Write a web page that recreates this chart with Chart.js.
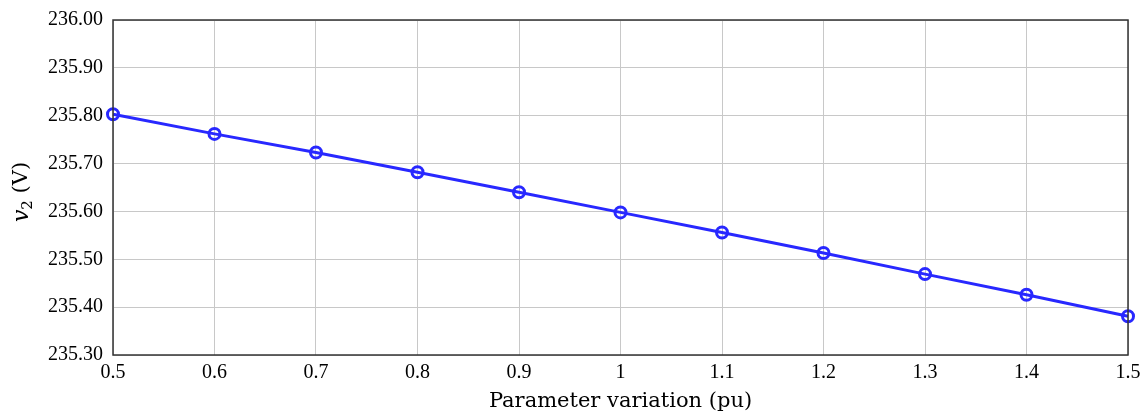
<!DOCTYPE html>
<html>
<head>
<meta charset="utf-8">
<script src="https://cdn.jsdelivr.net/npm/chart.js@4/dist/chart.umd.min.js"></script>
<style>
  html, body { margin: 0; padding: 0; background: #fff; }
  #wrap { width: 1144px; height: 414px; }
</style>
</head>
<body>
<div id="wrap"><canvas id="v2Chart"></canvas></div>
<script>
// Data
const paramVariation = [0.5, 0.6, 0.7, 0.8, 0.9, 1.0, 1.1, 1.2, 1.3, 1.4, 1.5];
const v2Values = [235.803, 235.762, 235.723, 235.682, 235.640, 235.598, 235.556, 235.513, 235.469, 235.426, 235.381];
const yTickMin = 235.30;
const yTickMax = 236.00;
const xTickMin = 0.5;
const xTickMax = 1.5;

const FONT = '"Liberation Serif", "DejaVu Serif", serif';
const TITLE_FONT = '"DejaVu Serif", "Liberation Serif", serif';

// box round the plot area + rotated y title with subscript
const frameAndTitle = {
    id: 'frameAndTitle',
    afterDraw(chart) {
        const { ctx, chartArea: a } = chart;
        ctx.save();
        ctx.strokeStyle = '#333';
        ctx.lineWidth = 1.5;
        ctx.strokeRect(a.left, a.top, a.right - a.left, a.bottom - a.top);

        // y title: v_2 (V)
        ctx.translate(22, 192);
        ctx.rotate(-Math.PI / 2);
        ctx.fillStyle = '#000';
        ctx.textBaseline = 'middle';
        ctx.font = 'italic 22px ' + TITLE_FONT;
        const wV = ctx.measureText('v').width;
        ctx.font = '15px ' + TITLE_FONT;
        const w2 = ctx.measureText('2').width;
        ctx.font = '21px ' + TITLE_FONT;
        const wRest = ctx.measureText(' (V)').width;
        let x = -(wV + w2 + wRest) / 2;
        ctx.font = 'italic 22px ' + TITLE_FONT;
        ctx.fillText('v', x, 0);
        x += wV;
        ctx.font = '15px ' + TITLE_FONT;
        ctx.fillText('2', x, 6);
        x += w2;
        ctx.font = '21px ' + TITLE_FONT;
        ctx.fillText(' (V)', x, 0);
        ctx.restore();
    }
};

new Chart(document.getElementById('v2Chart'), {
    type: 'line',
    data: {
        datasets: [{
            data: paramVariation.map((p, i) => ({ x: p, y: v2Values[i] })),
            borderColor: 'rgb(40, 40, 255)',
            borderWidth: 3,
            pointRadius: 5.5,
            pointHoverRadius: 5.5,
            pointBorderWidth: 3,
            pointBorderColor: 'rgb(40, 40, 255)',
            pointBackgroundColor: 'rgba(0,0,0,0)',
            tension: 0,
            clip: false
        }]
    },
    options: {
        responsive: true,
        maintainAspectRatio: false,
        animation: false,
        layout: { padding: { top: 20, right: 16, left: 0, bottom: 0 } },
        plugins: {
            legend: { display: false },
            tooltip: { enabled: false }
        },
        scales: {
            x: {
                type: 'linear',
                min: xTickMin,
                max: xTickMax,
                afterFit: (s) => { s.height = 59; s.paddingLeft = 0; s.paddingRight = 0; },
                grid: { color: '#c8c8c8', lineWidth: 1, drawTicks: false },
                border: { display: false },
                ticks: {
                    stepSize: 0.1,
                    padding: 6,
                    color: '#000',
                    font: { family: FONT, size: 20 },
                    maxRotation: 0,
                    autoSkip: false,
                    callback: (v) => String(Number(v.toFixed(1)))
                },
                title: {
                    display: true,
                    text: 'Parameter variation (pu)',
                    color: '#000',
                    font: { family: TITLE_FONT, size: 21 },
                    padding: { top: 0, bottom: 0 }
                }
            },
            y: {
                min: yTickMin,
                max: yTickMax,
                afterFit: (s) => { s.width = 113; s.paddingTop = 0; s.paddingBottom = 0; },
                grid: { color: '#c8c8c8', lineWidth: 1, drawTicks: false },
                border: { display: false },
                ticks: {
                    stepSize: 0.1,
                    padding: 10,
                    color: '#000',
                    font: { family: FONT, size: 20 },
                    callback: (v) => v.toFixed(2)
                }
            }
        }
    },
    plugins: [frameAndTitle]
});
</script>
</body>
</html>
